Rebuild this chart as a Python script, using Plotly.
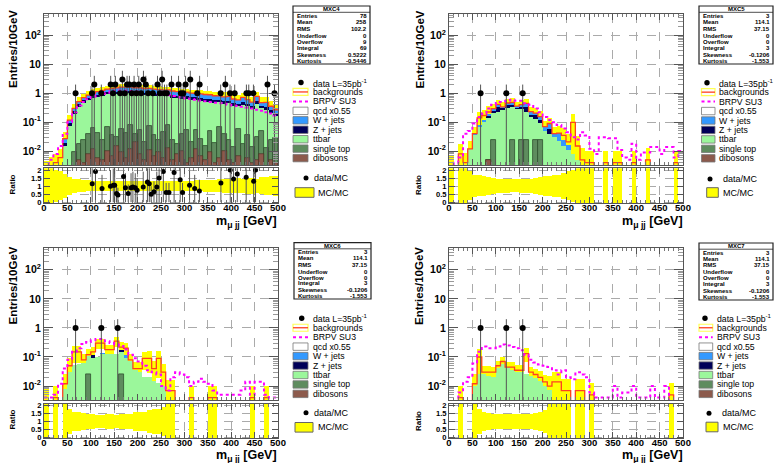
import numpy as np
import plotly.graph_objects as go

# ---------------- binning ----------------
bin_edges = np.arange(0, 510, 10)
bin_centers = (bin_edges[:-1] + bin_edges[1:]) / 2.0

# ---------------- panel 1 : MXC4 ----------------
p1_qcd = [0.002,0.003,0.004,0.006,0,0,0,0,0,0, 0,0,0,0,0,0,0,0,0,0, 0,0,0,0,0,0,0,0,0,0,
          0,0,0,0,0,0,0,0,0,0, 0,0,0,0,0,0,0,0,0,0]
p1_wjets = [0,0,0,0,0.008,0.025,0.06,0.1,0.13,0.15, 0.2,0.25,0.3,0.32,0.36,0.4,0.42,0.45,0.43,0.42,
            0.42,0.41,0.4,0.39,0.37,0.36,0.35,0.34,0.33,0.3, 0.3,0.29,0.28,0.28,0.27,0.26,0.24,0.23,0.21,0.23,
            0.18,0.15,0.22,0.17,0.14,0.25,0.12,0.14,0.09,0.07]
p1_zjets = [0,0,0,0,0.004,0.02,0.05,0.08,0.1,0.12, 0.14,0.15,0.16,0.17,0.18,0.19,0.2,0.2,0.2,0.19,
            0.19,0.18,0.18,0.17,0.17,0.16,0.16,0.15,0.15,0.14, 0.14,0.13,0.13,0.12,0.12,0.11,0.11,0.1,0.1,0.1,
            0.09,0.08,0.1,0.08,0.07,0.1,0.06,0.07,0.05,0.04]
p1_ttbar = [0,0,0,0,0.015,0.07,0.18,0.32,0.45,0.55, 0.62,0.7,0.78,0.84,0.88,0.92,0.95,0.95,0.93,0.9,
            0.88,0.85,0.82,0.8,0.77,0.74,0.71,0.68,0.65,0.6, 0.6,0.57,0.54,0.52,0.5,0.47,0.45,0.42,0.4,0.42,
            0.35,0.3,0.38,0.32,0.27,0.4,0.25,0.26,0.19,0.13]
p1_stop = [0,0,0,0,0,0.002,0.006,0.012,0.02,0.03, 0.05,0.035,0.02,0.06,0.03,0.015,0.05,0.035,0.07,0.02,
           0.045,0.015,0.06,0.03,0.015,0.04,0.07,0.02,0.01,0.03, 0.05,0.015,0.04,0.02,0.01,0.04,0.015,0.06,0.03,0.02,
           0.01,0.05,0.015,0.03,0.01,0.025,0.04,0.01,0.02,0.025]
p1_dib = [0,0,0,0,0,0,0.003,0.005,0.004,0.008, 0.012,0.006,0.005,0.01,0.007,0.015,0.009,0.006,0.012,0.02,
          0.008,0.005,0.011,0.007,0.009,0.006,0.013,0.005,0.008,0.01, 0.004,0.006,0.012,0.007,0.005,0.009,0.004,0.006,0.01,0.005,
          0.004,0.007,0.003,0.006,0.004,0.005,0.008,0.003,0.005,0.004]
p1_signal = [0.003,0.005,0.008,0.015,0.04,0.1,0.22,0.38,0.5,0.62, 0.75,0.85,0.95,1.05,1.15,1.2,1.25,1.25,1.2,1.15,
             1.1,1.05,1.0,1.0,0.95,0.92,0.85,0.8,0.75,0.7, 0.66,0.63,0.6,0.56,0.53,0.5,0.47,0.45,0.43,0.4,
             0.38,0.36,0.34,0.32,0.3,0.27,0.25,0.22,0.2,0.17]
p1_relerr = [1.2,1.1,1.0,0.9,0.75,0.55,0.45,0.4,0.37,0.35, 0.33,0.32,0.31,0.3,0.3,0.3,0.3,0.3,0.3,0.3,
             0.3,0.3,0.3,0.3,0.3,0.3,0.31,0.31,0.32,0.32, 0.33,0.33,0.34,0.35,0.36,0.37,0.38,0.4,0.42,0.42,
             0.45,0.47,0.45,0.48,0.5,0.45,0.52,0.55,0.58,0.6]
p1_data_x = [67.5,102.5,107.5,122.5,142.5,147.5,152.5,162.5,167.5,172.5,177.5,182.5,187.5,192.5,197.5,
             202.5,207.5,212.5,217.5,222.5,232.5,242.5,247.5,252.5,257.5,262.5,272.5,287.5,292.5,297.5,
             302.5,312.5,327.5,332.5,377.5,387.5,397.5,407.5,432.5,437.5,447.5,477.5,492.5]
p1_data_y = [1,1,2,1,2,1,2,1,3,1, 2,2,1,2,1,2,1,3,2,1, 1,2,1,3,1,1,2,2,1,1, 2,3,1,2,1,2,1,1,1,1, 1,2,1]
p1_ratio_x = [103,110,124,142,148,151,155,158,170,174, 180,186,190,195,199,212,221,225,229,235,
              241,246,255,261,267,278,291,296,311,322, 332,378,398,405,413,432,448,452]
p1_ratio_y = [1.15,1.9,0.85,1.0,1.05,1.05,0.55,0.45,1.6,0.9, 0.55,0.9,0.95,0.9,0.75,0.95,1.25,1.15,0.5,0.65,
              0.95,1.5,1.9,0.6,0.6,1.85,1.4,0.6,1.05,0.85, 0.7,1.2,2.0,1.45,1.75,1.55,1.3,2.0]
p1_stats = ["78", "258", "102.2", "0", "9", "69", "0.5222", "-0.5446"]

# ---------------- panel 2 : MXC5 ----------------
p2_qcd = [0.003,0,0.008,0.004,0,0,0.06,0.05,0.03,0, 0,0,0,0,0,0,0,0,0,0,
          0,0,0,0,0.01,0.005,0.09,0.01,0.005,0.004, 0.004,0,0,0.004,0,0.004,0.004,0,0,0.004,
          0,0,0.005,0,0,0,0,0,0.004,0]
p2_wjets = [0,0,0,0,0,0.005,0.01,0.02,0.03,0.05, 0.08,0.04,0.08,0.1,0.06,0.08,0.12,0.05,0.03,0.04,
            0.02,0.03,0.01,0.02,0.01,0.005,0,0,0,0, 0,0,0,0,0,0,0,0,0,0, 0,0,0,0,0,0,0,0,0,0]
p2_zjets = [0,0,0,0,0,0,0,0,0.02,0.03, 0.1,0.03,0.08,0.06,0.02,0.05,0.1,0.03,0.05,0.02,
            0,0.02,0,0,0,0,0,0,0,0, 0,0,0,0,0,0,0,0,0,0, 0,0,0,0,0,0,0,0,0,0]
p2_ttbar = [0,0,0,0,0.012,0.035,0.07,0.1,0.14,0.19, 0.23,0.27,0.3,0.3,0.28,0.25,0.2,0.15,0.1,0.07,
            0.05,0.04,0.03,0.022,0.015,0.011,0.008,0.005,0,0, 0,0,0,0,0,0,0,0,0,0, 0,0,0,0,0,0,0,0,0,0]
p2_stop = [0,0,0,0,0,0,0,0,0,0.025, 0,0,0,0.025,0,0.025,0.025,0,0.025,0.025,
           0,0,0,0,0,0,0,0,0,0, 0,0,0,0,0,0,0,0,0,0, 0,0,0,0,0,0,0,0,0,0]
p2_dib = [0,0,0,0,0,0,0,0,0.005,0, 0,0,0,0,0,0,0,0,0,0, 0,0,0,0,0,0,0,0,0,0,
          0,0,0,0,0,0,0,0,0,0, 0,0,0,0,0,0,0,0,0,0]
p2_signal = [0.003,0.004,0.006,0.04,0.05,0.09,0.15,0.2,0.3,0.4, 0.5,0.5,0.55,0.6,0.55,0.55,0.45,0.4,0.3,0.22,
             0.15,0.12,0.1,0.08,0.06,0.045,0.03,0.025,0.045,0.035, 0.012,0.008,0.03,0.03,0.028,0.028,0.011,0.006,0.005,0.018,
             0.005,0.009,0.009,0.014,0.014,0.008,0.014,0.014,0.006,0.01]
p2_relerr = [1.5,0,1.2,1.2,0.9,0.7,0.65,0.6,0.55,0.5, 0.45,0.45,0.42,0.4,0.4,0.42,0.42,0.45,0.5,0.55,
             0.6,0.6,0.7,0.7,0.8,0.9,1.0,1.2,1.5,1.5, 1.5,0,0,1.5,0,1.5,1.5,0,0,1.5,
             0,0,1.5,0,0,0,0,0,1.5,0]
p2_data_x = [67.5, 122.5, 157.5]
p2_data_y = [1, 1, 1]
p2_stats = ["3", "114.1", "37.15", "0", "0", "3", "-0.1206", "-1.553"]

# ---------------- panel 3 : MXC6 ----------------
p3_qcd = [0.003,0,0.004,0,0.004,0.02,0.1,0.095,0.02,0.015, 0.04,0.2,0.165,0.06,0.06,0.23,0.05,0.09,0.01,0.005,
          0.01,0.07,0.07,0.025,0.078,0.02,0.007,0.007,0,0, 0,0.004,0,0,0,0.004,0.004,0,0,0,
          0,0,0,0,0.004,0,0,0.004,0,0]
p3_wjets = [0,0,0,0,0,0,0,0,0,0, 0,0,0.015,0,0,0,0,0.02,0,0, 0,0,0,0,0,0,0,0,0,0,
            0,0,0,0,0,0,0,0,0,0, 0,0,0,0,0,0,0,0,0,0]
p3_zjets = [0,0,0,0,0,0,0,0,0,0, 0.02,0,0,0,0,0,0.025,0,0,0, 0,0,0,0,0,0,0,0,0,0,
            0,0,0,0,0,0,0,0,0,0, 0,0,0,0,0,0,0,0,0,0]
p3_ttbar = [0,0,0,0,0.008,0.03,0.05,0.055,0.06,0.08, 0.09,0.1,0.12,0.12,0.12,0.12,0.12,0.09,0.07,0.035,
            0.03,0.02,0.02,0.015,0.012,0.01,0,0,0,0, 0,0,0,0,0,0,0,0,0,0, 0,0,0,0,0,0,0,0,0,0]
p3_stop = [0,0,0,0,0,0,0,0,0,0.025, 0,0,0,0,0,0,0.025,0,0,0, 0,0,0,0,0,0,0,0,0,0,
           0,0,0,0,0,0,0,0,0,0, 0,0,0,0,0,0,0,0,0,0]
p3_dib = [0] * 50
p3_signal = [0.004,0.004,0.005,0.012,0.04,0.08,0.15,0.2,0.28,0.33, 0.38,0.42,0.42,0.35,0.3,0.27,0.24,0.18,0.12,0.09,
             0.07,0.05,0.035,0.03,0.025,0.01,0.007,0.02,0.03,0.025, 0.02,0.01,0.014,0.018,0.014,0.012,0.007,0.005,0.005,0.005,
             0.005,0.005,0.007,0.014,0.005,0.014,0.014,0.005,0.004,0.004]
p3_relerr = [1.5,0,1.5,0,1.2,0.8,0.6,0.6,0.55,0.5, 0.45,0.4,0.4,0.45,0.45,0.4,0.45,0.45,0.5,0.6,
             0.6,0.6,0.7,0.8,0.8,0.9,1.2,1.2,0,0, 0,1.5,0,0,0,1.5,1.5,0,0,0,
             0,0,0,0,1.5,0,0,1.5,0,0]
p3_data_x = [67.5, 122.5, 157.5]
p3_data_y = [1, 1, 1]
p3_stats = ["3", "114.1", "37.15", "0", "0", "3", "-0.1206", "-1.553"]

# ---------------- panel 4 : MXC7 ----------------
p4_qcd = [0,0,0.004,0,0,0.002,0.075,0.005,0.008,0.01, 0.01,0.015,0,0.01,0.005,0.005,0.105,0.008,0.007,0.005,
          0.004,0.003,0.014,0.014,0.007,0.007,0,0.007,0.007,0, 0.005,0,0,0,0,0,0,0,0,0,
          0,0,0,0,0,0,0,0.005,0,0]
p4_wjets = [0] * 50
p4_zjets = [0] * 50
p4_ttbar = [0,0,0,0,0,0.01,0.025,0.025,0.022,0.02, 0.04,0.055,0.045,0.035,0.03,0.03,0.025,0.022,0.018,0.015,
            0.01,0.007,0,0,0,0,0,0,0,0, 0,0,0,0,0,0,0,0,0,0, 0,0,0,0,0,0,0,0,0,0]
p4_stop = [0] * 50
p4_dib = [0] * 50
p4_signal = [0.003,0.003,0.006,0.014,0.02,0.06,0.15,0.23,0.2,0.2, 0.23,0.27,0.25,0.22,0.2,0.17,0.12,0.08,0.065,0.055,
             0.05,0.045,0.035,0.025,0.035,0.02,0.017,0.03,0.025,0.02, 0.006,0.004,0.004,0.004,0.004,0.01,0.004,0.006,0.006,0.01,
             0.004,0.004,0.004,0.01,0.004,0.004,0.01,0.003,0.003,0.003]
p4_relerr = [0,0,1.5,0,0,1.2,0.8,0.6,0.55,0.5, 0.45,0.45,0.45,0.45,0.45,0.5,0.5,0.5,0.55,0.6,
             0.7,1.2,1.2,1.2,1.5,1.5,0,1.5,1.5,0, 1.5,0,0,0,0,0,0,0,0,0,
             0,0,0,0,0,0,0,1.5,0,0]
p4_data_x = [67.5, 122.5, 157.5]
p4_data_y = [1, 1, 1]
p4_stats = ["3", "114.1", "37.15", "0", "0", "3", "-0.1206", "-1.553"]

stat_labels = ["Entries", "Mean", "RMS", "Underflow", "Overflow", "Integral", "Skewness", "Kurtosis"]
legend_labels = ["data L=35pb<sup>-1</sup>", "backgrounds", "BRPV SU3", "qcd x0.55", "W + jets",
                 "Z + jets", "ttbar", "single top", "dibosons"]
x_tick_vals = [0, 50, 100, 150, 200, 250, 300, 350, 400, 450, 500]
y_tick_vals = [0.01, 0.1, 1, 10, 100]
y_tick_text = ["10<sup>-2</sup>", "10<sup>-1</sup>", "1", "10", "10<sup>2</sup>"]
r_tick_vals = [0, 0.5, 1, 1.5, 2]
r_tick_text = ["0", "0.5", "1", "1.5", "2"]

PANELS = [
    dict(name="MXC4", qcd=p1_qcd, w=p1_wjets, z=p1_zjets, tt=p1_ttbar, st=p1_stop, db=p1_dib,
         sig=p1_signal, err=p1_relerr, dx=p1_data_x, dy=p1_data_y, rx=p1_ratio_x, ry=p1_ratio_y, stats=p1_stats),
    dict(name="MXC5", qcd=p2_qcd, w=p2_wjets, z=p2_zjets, tt=p2_ttbar, st=p2_stop, db=p2_dib,
         sig=p2_signal, err=p2_relerr, dx=p2_data_x, dy=p2_data_y, rx=[], ry=[], stats=p2_stats),
    dict(name="MXC6", qcd=p3_qcd, w=p3_wjets, z=p3_zjets, tt=p3_ttbar, st=p3_stop, db=p3_dib,
         sig=p3_signal, err=p3_relerr, dx=p3_data_x, dy=p3_data_y, rx=[], ry=[], stats=p3_stats),
    dict(name="MXC7", qcd=p4_qcd, w=p4_wjets, z=p4_zjets, tt=p4_ttbar, st=p4_stop, db=p4_dib,
         sig=p4_signal, err=p4_relerr, dx=p4_data_x, dy=p4_data_y, rx=[], ry=[], stats=p4_stats),
]

# ---------------- geometry (pixels) ----------------
W, H = 774, 463
GEOM = [
    dict(x0=44, x1=278, mt=14.0, mb=165.0, rt=168.3, rb=203.3, ytx=12.5, yty=49.5, rtx=11.5, rty=185,
         xtr=279, xty=221.5, lsx0=293, lsx1=308, lmx=301, ltx=311, ly0=82.5,
         rmx=306, rtxt=312, rbx0=295, rbx1=314, rbtxt=316, rly1=178, rly2=192.5, sb=(293, 6, 370, 64)),
    dict(x0=449, x1=683, mt=14.0, mb=165.0, rt=168.3, rb=203.3, ytx=419, yty=49.5, rtx=418, rty=185,
         xtr=685, xty=221.5, lsx0=701.5, lsx1=715, lmx=707, ltx=717, ly0=82.7,
         rmx=710, rtxt=721, rbx0=706.7, rbx1=718.3, rbtxt=721, rly1=179, rly2=192.5, sb=(699, 6, 773, 64)),
    dict(x0=44, x1=278, mt=248.3, mb=400.0, rt=404.0, rb=438.3, ytx=12.5, yty=286, rtx=11.5, rty=420,
         xtr=279, xty=455.5, lsx0=293, lsx1=308, lmx=301.7, ltx=311, ly0=318.3,
         rmx=306, rtxt=312, rbx0=295, rbx1=313, rbtxt=316, rly1=412.7, rly2=427.3, sb=(294, 242.7, 371, 299)),
    dict(x0=449, x1=683, mt=248.3, mb=400.0, rt=404.0, rb=438.3, ytx=419, yty=286, rtx=418, rty=421,
         xtr=685, xty=455.5, lsx0=699, lsx1=712.7, lmx=705, ltx=715, ly0=318.3,
         rmx=709, rtxt=720, rbx0=706, rbx1=718, rbtxt=721, rly1=413.3, rly2=427, sb=(699, 243, 773, 300)),
]

FONT = "Liberation Sans"
C_TT, C_W, C_Z, C_ST, C_DB = "#9bf79b", "#3399ff", "#000058", "#5e8c5e", "#8c5a4c"
C_Y, C_RED, C_SIG = "#ffff00", "#ff4020", "#ff00ff"
Y_RANGE = [-2.48, 2.74]
R_RANGE = [-0.063, 2.106]


def X(px):
    return px / W


def Y(py):
    return 1 - py / H


def ref(n, letter):
    return letter if n == 1 else f"{letter}{n}"


def key(n, letter):
    return f"{letter}axis" if n == 1 else f"{letter}axis{n}"


fig = go.Figure()
shapes, annos = [], []
layout_axes = {}

minor_log = [m * 10.0 ** e for e in range(-3, 3) for m in range(2, 10)]

for k, (P, g) in enumerate(zip(PANELS, GEOM)):
    nm, nr = 2 * k + 1, 2 * k + 2
    xm, ym, xr, yr = ref(nm, "x"), ref(nm, "y"), ref(nr, "x"), ref(nr, "y")

    db = np.array(P["db"], float)
    st = np.array(P["st"], float)
    tt = np.array(P["tt"], float)
    z = np.array(P["z"], float)
    w = np.array(P["w"], float)
    q = np.array(P["qcd"], float)
    c_db = db
    c_st = c_db + st
    c_tt = c_st + tt
    c_z = c_tt + z
    c_w = c_z + w
    total = c_w + q
    err = np.array(P["err"], float)

    # MC uncertainty band (behind the stack)
    m = (total > 0) & (err > 0)
    lo = np.maximum(total * (1 - err), 1e-5)
    hi = total * (1 + err)
    fig.add_trace(go.Bar(x=bin_centers[m], y=(hi - lo)[m], base=lo[m], width=10, xaxis=xm, yaxis=ym,
                         marker=dict(color=C_Y, line=dict(width=0)), showlegend=False, hoverinfo="skip"))

    # stacked histogram (largest cumulative first; qcd fill is white -> left unpainted)
    for cum, col, lw, lc in [(c_w, C_W, 0, C_W), (c_z, C_Z, 0, C_Z),
                             (c_tt, C_TT, 0, C_TT), (c_st, C_ST, 0.8, "#2f4f2f"), (c_db, C_DB, 0.6, "#4a2a20")]:
        mm = cum > 0
        if mm.any():
            fig.add_trace(go.Bar(x=bin_centers[mm], y=cum[mm], width=10, xaxis=xm, yaxis=ym,
                                 marker=dict(color=col, line=dict(width=lw, color=lc)),
                                 showlegend=False, hoverinfo="skip"))

    # backgrounds line and signal
    tot_line = np.where(total > 0, total, 1e-6)
    fig.add_trace(go.Scatter(x=bin_edges, y=np.append(tot_line, tot_line[-1]), mode="lines",
                             line=dict(color=C_RED, width=1.3, shape="hv"), xaxis=xm, yaxis=ym,
                             showlegend=False, hoverinfo="skip"))
    sig = np.array(P["sig"], float)
    fig.add_trace(go.Scatter(x=bin_edges, y=np.append(sig, sig[-1]), mode="lines",
                             line=dict(color=C_SIG, width=2, shape="hv", dash="dot"), xaxis=xm, yaxis=ym,
                             showlegend=False, hoverinfo="skip"))

    # data
    dyv = np.array(P["dy"], float)
    fig.add_trace(go.Scatter(x=P["dx"], y=dyv, mode="markers", xaxis=xm, yaxis=ym,
                             marker=dict(color="black", size=6),
                             error_y=dict(type="data", array=dyv, arrayminus=dyv * 0.99999,
                                          width=0, thickness=1, color="#555555"),
                             showlegend=False, hoverinfo="skip"))

    # ratio band
    rlo = np.maximum(1 - err, R_RANGE[0])
    rhi = np.minimum(1 + err, R_RANGE[1])
    fig.add_trace(go.Bar(x=bin_centers[m], y=(rhi - rlo)[m], base=rlo[m], width=10, xaxis=xr, yaxis=yr,
                         marker=dict(color=C_Y, line=dict(width=0)), showlegend=False, hoverinfo="skip"))
    if len(P["rx"]):
        ryv = np.array(P["ry"], float)
        fig.add_trace(go.Scatter(x=P["rx"], y=ryv, mode="markers", xaxis=xr, yaxis=yr,
                                 marker=dict(color="black", size=5),
                                 error_y=dict(type="data", array=ryv, width=0, thickness=1, color="#555555"),
                                 showlegend=False, hoverinfo="skip"))

    # axes
    common = dict(ticks="inside", tickcolor="#555", tickwidth=1, showline=True, linecolor="#555",
                  linewidth=1, mirror="allticks", showgrid=True, gridcolor="#aaaaaa", griddash="dash",
                  gridwidth=1, zeroline=False, automargin=False, fixedrange=True)
    xcommon = dict(range=[0, 500], tickmode="array", tickvals=x_tick_vals, ticklen=6,
                   minor=dict(dtick=10, tick0=0, ticks="inside", ticklen=3, tickcolor="#777", showgrid=False),
                   domain=[X(g["x0"]), X(g["x1"])], **common)
    layout_axes[key(nm, "x")] = dict(anchor=ym, showticklabels=False, **xcommon)
    layout_axes[key(nr, "x")] = dict(anchor=yr, showticklabels=True, ticklabelstandoff=-5,
                                     tickfont=dict(family=FONT, size=9.5, color="black", weight="bold"),
                                     **xcommon)
    layout_axes[key(nm, "y")] = dict(anchor=xm, type="log", range=Y_RANGE, domain=[Y(g["mb"]), Y(g["mt"])],
                                     tickmode="array", tickvals=y_tick_vals, ticktext=y_tick_text, ticklen=9,
                                     tickfont=dict(family=FONT, size=10.5, color="black", weight="bold"),
                                     minor=dict(tickmode="array", tickvals=minor_log, ticks="inside", ticklen=5,
                                                tickcolor="#999", showgrid=False),
                                     **common)
    layout_axes[key(nr, "y")] = dict(anchor=xr, range=R_RANGE, domain=[Y(g["rb"]), Y(g["rt"])],
                                     tickmode="array", tickvals=r_tick_vals, ticktext=r_tick_text, ticklen=6,
                                     tickfont=dict(family=FONT, size=7.6, color="black", weight="bold"),
                                     **common)

    # axis titles
    annos.append(dict(text="<b>Entries/10GeV</b>", x=X(g["ytx"]), y=Y(g["yty"]), xref="paper", yref="paper",
                      textangle=-90, showarrow=False, xanchor="center", yanchor="middle",
                      font=dict(family=FONT, size=11.5, color="black")))
    annos.append(dict(text="<b>Ratio</b>", x=X(g["rtx"]), y=Y(g["rty"]), xref="paper", yref="paper",
                      textangle=-90, showarrow=False, xanchor="center", yanchor="middle",
                      font=dict(family=FONT, size=8, color="black")))
    annos.append(dict(text="<b>m<sub>\u03bc jj</sub> [GeV]</b>", x=X(g["xtr"]), y=Y(g["xty"]),
                      xref="paper", yref="paper", showarrow=False, xanchor="right", yanchor="middle",
                      font=dict(family=FONT, size=12.5, color="black")))

    # legend
    for i, lab in enumerate(legend_labels):
        yc = g["ly0"] + i * 9.45
        if i == 0:
            shapes.append(dict(type="circle", xref="paper", yref="paper", x0=X(g["lmx"] - 2.7),
                               x1=X(g["lmx"] + 2.7), y0=Y(yc + 2.7), y1=Y(yc - 2.7),
                               fillcolor="black", line=dict(width=0)))
        elif i == 1:
            shapes.append(dict(type="rect", xref="paper", yref="paper", x0=X(g["lsx0"]), x1=X(g["lsx1"]),
                               y0=Y(yc + 3.5), y1=Y(yc - 3.5), line=dict(color="#ffff55", width=1.2)))
            shapes.append(dict(type="line", xref="paper", yref="paper", x0=X(g["lsx0"]), x1=X(g["lsx1"]),
                               y0=Y(yc), y1=Y(yc), line=dict(color=C_RED, width=1.3)))
        elif i == 2:
            shapes.append(dict(type="line", xref="paper", yref="paper", x0=X(g["lsx0"]), x1=X(g["lsx1"]),
                               y0=Y(yc), y1=Y(yc), line=dict(color=C_SIG, width=2, dash="dot")))
        else:
            col = ["#ffffff", C_W, C_Z, C_TT, C_ST, C_DB][i - 3]
            shapes.append(dict(type="rect", xref="paper", yref="paper", x0=X(g["lsx0"]), x1=X(g["lsx1"]),
                               y0=Y(yc + 3.7), y1=Y(yc - 3.7), fillcolor=col,
                               line=dict(color="#777", width=0.8)))
        annos.append(dict(text=lab, x=X(g["ltx"]), y=Y(yc), xref="paper", yref="paper", showarrow=False,
                          xanchor="left", yanchor="middle", font=dict(family=FONT, size=8.7, color="black")))

    # ratio legend
    shapes.append(dict(type="circle", xref="paper", yref="paper", x0=X(g["rmx"] - 2.5), x1=X(g["rmx"] + 2.5),
                       y0=Y(g["rly1"] + 2.5), y1=Y(g["rly1"] - 2.5), fillcolor="black", line=dict(width=0)))
    annos.append(dict(text="data/MC", x=X(g["rtxt"]), y=Y(g["rly1"]), xref="paper", yref="paper",
                      showarrow=False, xanchor="left", yanchor="middle",
                      font=dict(family=FONT, size=9, color="black")))
    shapes.append(dict(type="rect", xref="paper", yref="paper", x0=X(g["rbx0"]), x1=X(g["rbx1"]),
                       y0=Y(g["rly2"] + 4.8), y1=Y(g["rly2"] - 4.8), fillcolor=C_Y,
                       line=dict(color="#666", width=1)))
    annos.append(dict(text="MC/MC", x=X(g["rbtxt"]), y=Y(g["rly2"]), xref="paper", yref="paper",
                      showarrow=False, xanchor="left", yanchor="middle",
                      font=dict(family=FONT, size=9, color="black")))

    # statistics box
    bx0, by0, bx1, by1 = g["sb"]
    hgt = by1 - by0
    s = hgt / 58.0
    shapes.append(dict(type="rect", xref="paper", yref="paper", x0=X(bx0), x1=X(bx1), y0=Y(by1), y1=Y(by0),
                       fillcolor="white", line=dict(color="#222", width=1.2)))
    shapes.append(dict(type="line", xref="paper", yref="paper", x0=X(bx0), x1=X(bx1),
                       y0=Y(by0 + 6.3 * s), y1=Y(by0 + 6.3 * s), line=dict(color="#222", width=0.8)))
    annos.append(dict(text="<b>" + P["name"] + "</b>", x=X((bx0 + bx1) / 2), y=Y(by0 + 3.2 * s),
                      xref="paper", yref="paper", showarrow=False, xanchor="center", yanchor="middle",
                      font=dict(family=FONT, size=6, color="black")))
    row_off = [9.7, 16.0, 22.7, 29.7, 36.0, 42.0, 48.7, 55.0]
    for lab, val, off in zip(stat_labels, P["stats"], row_off):
        yy = Y(by0 + off * s)
        annos.append(dict(text="<b>" + lab + "</b>", x=X(bx0 + 2), y=yy, xref="paper", yref="paper",
                          showarrow=False, xanchor="left", yanchor="middle",
                          font=dict(family=FONT, size=6, color="black")))
        annos.append(dict(text="<b>" + val + "</b>", x=X(bx1 - 1.5), y=yy, xref="paper", yref="paper",
                          showarrow=False, xanchor="right", yanchor="middle",
                          font=dict(family=FONT, size=6, color="black")))

fig.update_layout(
    template="none",
    width=W, height=H,
    margin=dict(l=0, r=0, t=0, b=0, pad=0),
    paper_bgcolor="white", plot_bgcolor="white",
    barmode="overlay", bargap=0,
    showlegend=False,
    font=dict(family=FONT, color="black"),
    shapes=shapes, annotations=annos,
    **layout_axes,
)

fig.write_html("out.html")
